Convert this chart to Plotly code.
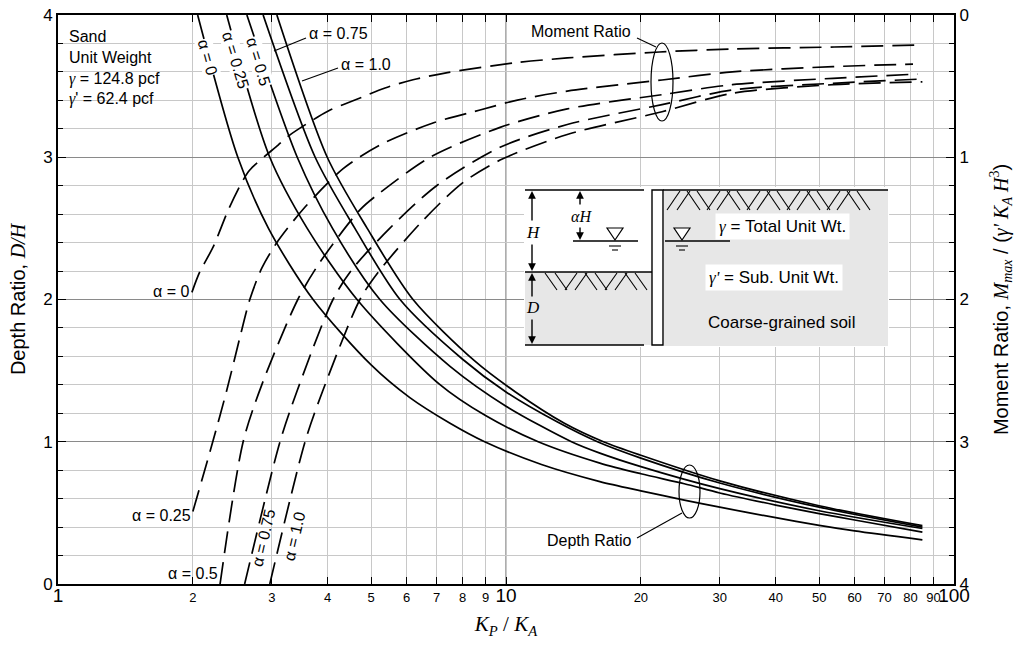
import plotly.graph_objects as go

# depth ratio D/H (solid curves)
dr_k_a0 = [2.05, 2.52, 2.95, 3.71, 5.0, 6.1, 7.5, 8.96, 12, 16.2, 20, 25, 30, 40, 50, 60, 85]
dr_d_a0 = [4.0, 3.0, 2.5, 2.0, 1.54, 1.31, 1.13, 1.0, 0.84, 0.72, 0.655, 0.59, 0.54, 0.466, 0.412, 0.373, 0.31]
dr_k_a025 = [2.38, 2.97, 3.6, 4.65, 7.1, 9, 11.8, 16.2, 20, 25, 30, 40, 50, 60, 85]
dr_d_a025 = [4.0, 3.0, 2.5, 2.0, 1.405, 1.184, 1.0, 0.85, 0.775, 0.705, 0.64, 0.555, 0.495, 0.45, 0.365]
dr_k_a05 = [2.64, 3.42, 4.1, 5.23, 7.5, 10, 14, 16.2, 20, 30, 50, 85]
dr_d_a05 = [4.0, 3.0, 2.5, 2.0, 1.53, 1.25, 1.0, 0.92, 0.825, 0.67, 0.515, 0.39]
dr_k_a075 = [2.87, 3.75, 4.6, 5.8, 8, 10, 13, 16, 20, 30, 50, 85]
dr_d_a075 = [4.0, 3.0, 2.5, 2.0, 1.58, 1.35, 1.14, 1.0, 0.885, 0.71, 0.54, 0.40]
dr_k_a1 = [3.08, 3.99, 4.9, 6.2, 8.5, 10.5, 13.5, 16.5, 20, 30, 50, 85]
dr_d_a1 = [4.0, 3.0, 2.5, 2.0, 1.57, 1.35, 1.13, 1.0, 0.905, 0.725, 0.55, 0.41]

# moment ratio (dashed curves, right axis)
mr_k_a0 = [1.99, 2.07, 2.22, 2.4, 2.575, 2.68, 3.1, 3.29, 3.8, 4.05, 4.6, 5.37, 6.2, 7.4, 10.4, 13.7, 22, 32, 54, 85]
mr_m_a0 = [1.95, 1.81, 1.63, 1.37, 1.174, 1.09, 0.914, 0.844, 0.717, 0.668, 0.598, 0.513, 0.455, 0.405, 0.337, 0.302, 0.26, 0.239, 0.225, 0.211]
mr_k_a025 = [2.0, 2.22, 2.38, 2.55, 2.68, 2.85, 3.08, 3.56, 4.33, 5.23, 6.87, 8.75, 10.6, 13.7, 22.3, 32, 53.7, 81]
mr_m_a025 = [3.49, 2.99, 2.64, 2.26, 2.0, 1.78, 1.6, 1.35, 1.08, 0.914, 0.759, 0.668, 0.598, 0.535, 0.457, 0.40, 0.363, 0.345]
mr_k_a05 = [2.30, 2.59, 2.85, 3.43, 3.84, 4.72, 5.23, 6.77, 9.7, 13.7, 22.3, 32, 53.7, 83]
mr_m_a05 = [4.0, 3.0, 2.6, 2.0, 1.74, 1.37, 1.25, 1.0, 0.79, 0.66, 0.56, 0.49, 0.445, 0.415]
mr_k_a075 = [2.61, 3.13, 3.42, 4.11, 4.53, 5.5, 7.0, 9.7, 13.7, 22.3, 32, 53.7, 85]
mr_m_a075 = [4.0, 3.0, 2.64, 2.0, 1.79, 1.5, 1.2, 0.93, 0.77, 0.63, 0.527, 0.48, 0.45]
mr_k_a1 = [2.97, 3.56, 3.89, 4.72, 5.18, 6.5, 8.0, 9.7, 13.7, 22.3, 32, 53.7, 85]
mr_m_a1 = [4.0, 3.0, 2.65, 2.0, 1.81, 1.45, 1.18, 1.02, 0.84, 0.68, 0.55, 0.49, 0.47]

x_ticks = [1, 2, 3, 4, 5, 6, 7, 8, 9, 10, 20, 30, 40, 50, 60, 70, 80, 90, 100]

SANS = "Arial, Liberation Sans"
SERIF = "Times New Roman, Liberation Serif"

# plot area in pixels: x 58..954, y 15..584
def px(x, y):
    return (x - 58) / 896, (584 - y) / 569


fig = go.Figure()

for k, d in [(dr_k_a0, dr_d_a0), (dr_k_a025, dr_d_a025), (dr_k_a05, dr_d_a05),
             (dr_k_a075, dr_d_a075), (dr_k_a1, dr_d_a1)]:
    fig.add_trace(go.Scatter(x=k, y=d, mode="lines",
                             line=dict(color="black", width=1.7, shape="spline", smoothing=0.8),
                             showlegend=False, hoverinfo="skip"))

for k, m in [(mr_k_a0, mr_m_a0), (mr_k_a025, mr_m_a025), (mr_k_a05, mr_m_a05),
             (mr_k_a075, mr_m_a075), (mr_k_a1, mr_m_a1)]:
    fig.add_trace(go.Scatter(x=k, y=m, yaxis="y2", mode="lines",
                             line=dict(color="black", width=1.7, dash="22px,9px", shape="spline", smoothing=0.8),
                             showlegend=False, hoverinfo="skip"))

tick_text = []
for v in x_ticks:
    if v in (1, 10, 100):
        tick_text.append('<span style="font-size:19px">%d</span>' % v)
    else:
        tick_text.append(str(v))

shapes = []
annotations = []


def line(x0, y0, x1, y1, w=1.3, color="black"):
    a, b = px(x0, y0)
    c, d = px(x1, y1)
    shapes.append(dict(type="line", xref="paper", yref="paper", x0=a, y0=b, x1=c, y1=d,
                       line=dict(color=color, width=w), layer="above"))


def rect(x0, y0, x1, y1, fill, lw=0):
    a, b = px(x0, y0)
    c, d = px(x1, y1)
    shapes.append(dict(type="rect", xref="paper", yref="paper", x0=a, y0=b, x1=c, y1=d,
                       fillcolor=fill, line=dict(color="black", width=lw), layer="above"))


def ellipse(x0, y0, x1, y1):
    a, b = px(x0, y0)
    c, d = px(x1, y1)
    shapes.append(dict(type="circle", xref="paper", yref="paper", x0=a, y0=b, x1=c, y1=d,
                       line=dict(color="black", width=1.2), layer="above"))


def path(points, close=False, fill=None, lw=1.2):
    s = ""
    for i, (x, y) in enumerate(points):
        a, b = px(x, y)
        s += ("M" if i == 0 else "L") + " %.5f %.5f " % (a, b)
    if close:
        s += "Z"
    shapes.append(dict(type="path", xref="paper", yref="paper", path=s,
                       fillcolor=fill if fill else "rgba(0,0,0,0)",
                       line=dict(color="black", width=lw), layer="above"))


def text(x, y, t, size=16, anchor="center", angle=0, bg=None, family=SANS, vanchor="middle",
         align="center", pad=0):
    a, b = px(x, y)
    annotations.append(dict(x=a, y=b, xref="paper", yref="paper", text=t, showarrow=False,
                            xanchor=anchor, yanchor=vanchor, textangle=angle, align=align,
                            font=dict(family=family, size=size, color="black"),
                            bgcolor=bg, borderpad=pad))


def arrow(x, y, x_from, y_from):
    a, b = px(x, y)
    annotations.append(dict(x=a, y=b, xref="paper", yref="paper", text="", showarrow=True,
                            ax=x_from - x, ay=y_from - y, arrowhead=2, arrowsize=1.1,
                            arrowwidth=1.4, arrowcolor="black"))


# darker major gridline at Kp/Ka = 10
shapes.append(dict(type="line", xref="x domain", yref="paper", x0=0.5, x1=0.5, y0=0, y1=1,
                   line=dict(color="#8a8a8a", width=1.4), layer="below"))

# ---- inset sketch ----
rect(524, 187, 889, 347, "white")
rect(664, 190, 888, 346, "#e7e7e7")
rect(525, 272, 652, 345, "#e7e7e7")
rect(652, 190, 663, 345, "white", lw=1.4)
line(663, 190, 888, 190, 1.6)
line(525, 190, 644, 190, 1.6)
line(525, 272, 652, 272, 1.6)
line(525, 345, 644, 345, 1.6)
# hatching
for i, x in enumerate(range(667, 860, 10)):
    if (i // 2) % 2 == 0:
        line(x, 210, x + 13, 191, 1.1)
    else:
        line(x, 191, x + 13, 210, 1.1)
for i, x in enumerate(range(545, 645, 10)):
    if (i // 2) % 2 == 0:
        line(x, 273, x + 12, 290, 1.1)
    else:
        line(x, 290, x + 12, 273, 1.1)
# water tables
line(573, 241, 638, 241, 1.3)
path([(607, 228), (623, 228), (615, 240)], close=True, fill="white")
line(609, 246, 621, 246, 1.1)
line(612, 250, 618, 250, 1.1)
line(665, 241, 730, 241, 1.3)
path([(674, 228), (690, 228), (682, 240)], close=True, fill="white")
line(676, 246, 688, 246, 1.1)
line(679, 250, 685, 250, 1.1)
# dimension arrows
arrow(532, 191, 532, 222)
arrow(532, 271, 532, 243)
arrow(532, 273, 532, 298)
arrow(532, 344, 532, 318)
arrow(580, 191, 580, 206)
arrow(580, 240, 580, 226)
text(533, 232, "<i>H</i>", 17, family=SERIF)
text(533, 308, "<i>D</i>", 17, family=SERIF)
text(581, 216, "<i>αH</i>", 16, family=SERIF)
text(782, 226, '<i><span style="font-family:Liberation Serif">γ</span></i> = Total Unit Wt.', 17,
     bg="white", pad=3)
text(774, 277, '<i><span style="font-family:Liberation Serif">γ\'</span></i> = Sub. Unit Wt.', 17,
     bg="white", pad=3)
text(781, 322, "Coarse-grained soil", 17)

# ---- labels ----
g = '<i><span style="font-family:Liberation Serif">γ</span></i>'
text(68, 27, "Sand<br>Unit Weight<br>%s = 124.8 pcf<br>%s' = 62.4 pcf" % (g, g), 16,
     anchor="left", vanchor="top", align="left")
text(208, 57, "α = 0", 16, angle=75, bg="white")
text(235, 60, "α = 0.25", 16, angle=73, bg="white")
text(258, 62, "α = 0.5", 16, angle=73, bg="white")
line(274, 51, 306, 38, 1.2)
text(308, 33, "α = 0.75", 16, anchor="left")
line(302, 81, 338, 68, 1.2)
text(340, 64, "α = 1.0", 16, anchor="left")
text(190, 291, "α = 0", 16, anchor="right")
text(192, 515, "α = 0.25", 16, anchor="right")
text(219, 573, "α = 0.5", 16, anchor="right")
text(263, 538, "α = 0.75", 16, angle=-77)
text(294, 536, "α = 1.0", 16, angle=-77)
text(581, 31, "Moment Ratio", 16)
line(637, 38, 656, 47, 1.1)
ellipse(651, 43, 673, 121)
text(589, 540, "Depth Ratio", 16)
line(637, 538, 682, 513, 1.1)
ellipse(679, 465, 700, 518)

fig.update_layout(
    width=1024, height=652,
    margin=dict(l=58, r=70, t=15, b=68),
    paper_bgcolor="white", plot_bgcolor="white",
    showlegend=False,
    shapes=shapes, annotations=annotations,
    xaxis=dict(type="log", range=[0, 2], tickvals=x_ticks, ticktext=tick_text, tickangle=0,
               tickfont=dict(family=SANS, size=13, color="black"),
               showgrid=True, gridcolor="#c8c8c8", gridwidth=1.2,
               ticks="inside", ticklen=7, tickcolor="black", tickwidth=1.2,
               showline=True, linecolor="black", linewidth=2, mirror="ticks", zeroline=False,
               automargin=False,
               title=dict(text="<i>K</i><sub><i>P</i></sub> / <i>K</i><sub><i>A</i></sub>",
                          font=dict(family=SERIF, size=21, color="black"), standoff=12)),
    yaxis=dict(range=[0, 4], tickvals=[0, 1, 2, 3, 4],
               tickfont=dict(family=SANS, size=17, color="black"),
               showgrid=True, gridcolor="#8a8a8a", gridwidth=1.4,
               ticks="inside", ticklen=8, tickcolor="black", tickwidth=1.2,
               minor=dict(dtick=0.2, showgrid=True, gridcolor="#c8c8c8", gridwidth=1.2,
                          ticks="inside", ticklen=5, tickcolor="black"),
               showline=True, linecolor="black", linewidth=2, zeroline=False, automargin=False,
               title=dict(text='Depth Ratio, <span style="font-family:Liberation Serif"><i>D/H</i></span>',
                          font=dict(family=SANS, size=20, color="black"), standoff=12)),
    yaxis2=dict(range=[4, 0], overlaying="y", side="right", tickvals=[0, 1, 2, 3, 4],
                tickfont=dict(family=SANS, size=17, color="black"),
                showgrid=False, ticks="inside", ticklen=8, tickcolor="black", tickwidth=1.2,
                minor=dict(dtick=0.2, ticks="inside", ticklen=5, tickcolor="black", showgrid=False),
                showline=True, linecolor="black", linewidth=2, zeroline=False, automargin=False,
                title=dict(text='Moment Ratio, <span style="font-family:Liberation Serif"><i>M</i><sub><i>max</i></sub></span>'
                                ' / (<span style="font-family:Liberation Serif"><i>γ\'</i> <i>K</i><sub><i>A</i></sub> <i>H</i><sup>3</sup></span>)',
                           font=dict(family=SANS, size=20, color="black"), standoff=26)),
)

fig.write_html("out.html", config={"displayModeBar": False},
               post_script="document.body.style.margin='0px';")
